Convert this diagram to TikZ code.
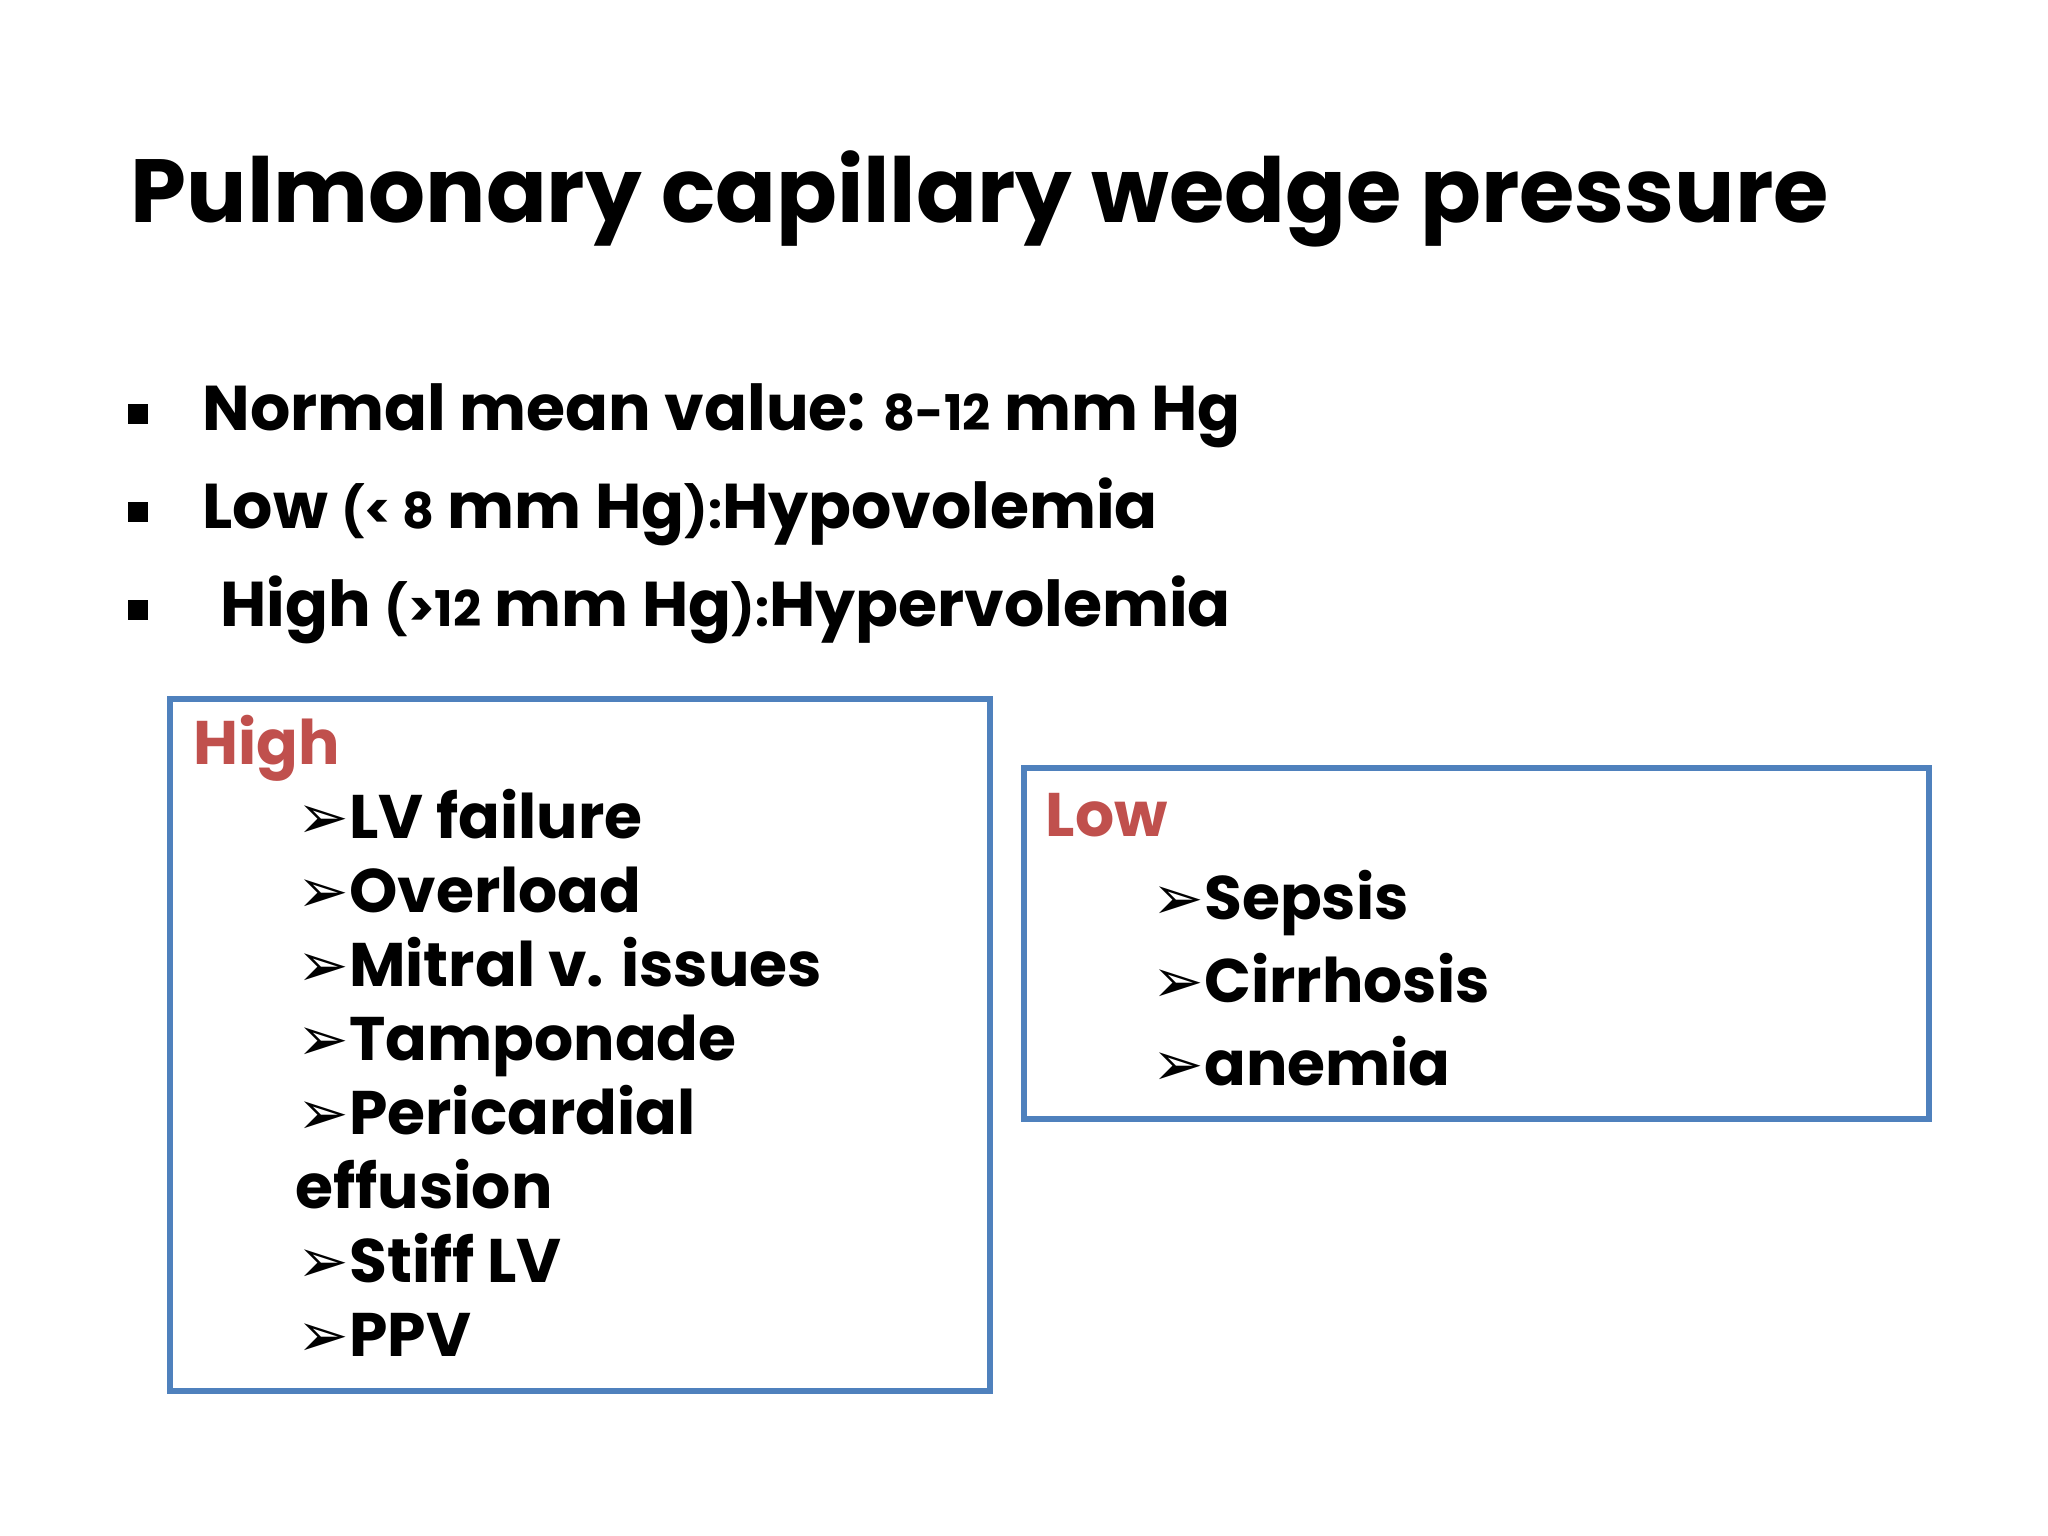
\documentclass[tikz,border=0pt]{standalone}
\usepackage{fontspec}
\setmainfont{Poppins}
\newfontfamily\symfont{DejaVu Sans}
\definecolor{boxblue}{HTML}{4F81BD}
\definecolor{hired}{HTML}{C0504D}
\begin{document}
\begin{tikzpicture}[x=0.01cm,y=-0.01cm,
  txt/.style={anchor=base west,inner sep=0,font=\bfseries\fontsize{17.5}{21}\selectfont},
  btxt/.style={anchor=base west,inner sep=0,font=\bfseries\fontsize{18}{22}\selectfont},
  boxframe/.style={draw=boxblue,line width=1.6pt}]
\useasboundingbox (0,0) rectangle (2048,1536);
\node[anchor=base west,inner sep=0,font=\bfseries\fontsize{25.5}{30}\selectfont] (title) at (130,222) {Pulmonary capillary wedge pressure};
\node[btxt] (b1) at (202,430) {Normal mean value: {\fontsize{14}{17}\selectfont 8-12} mm Hg};
\node[btxt] (b2) at (202,528) {Low {\fontsize{14}{17}\selectfont (< 8} mm Hg{\fontsize{14}{17}\selectfont ):}Hypovolemia};
\node[btxt] (b3) at (220,626) {High {\fontsize{14}{17}\selectfont (>12} mm Hg{\fontsize{14}{17}\selectfont ):}Hypervolemia};
\foreach \y in {404,502,600}
  \fill (128,\y) rectangle ++(20,20);
\draw[boxframe] (170,699) rectangle (990,1391);
\draw[boxframe] (1024,768) rectangle (1929,1119);
\node[txt,text=hired] (hi) at (193,764) {High};
\foreach \t [count=\i] in {LV failure,Overload,Mitral v. issues,Tamponade,Pericardial}
  \node[txt] (h\i) at (297,{764+74*\i}) {{\symfont\char"27A2}\t};
\node[txt] (h6) at (295,1208) {effusion};
\node[txt] (h7) at (297,1282) {{\symfont\char"27A2}Stiff LV};
\node[txt] (h8) at (297,1356) {{\symfont\char"27A2}PPV};
\node[txt,text=hired] (lo) at (1045,836) {Low};
\foreach \t [count=\i] in {Sepsis,Cirrhosis,anemia}
  \node[txt] (l\i) at (1152,{836+83*\i}) {{\symfont\char"27A2}\t};
\end{tikzpicture}
\end{document}
